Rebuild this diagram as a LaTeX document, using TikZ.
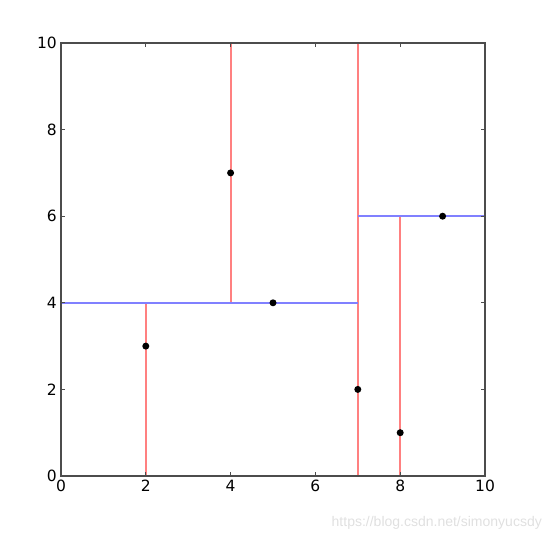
\documentclass[tikz,border=0pt]{standalone}
\usepackage{fontspec}
\setmainfont{DejaVu Sans}
\newfontfamily\wmfont{Liberation Sans}
\begin{document}
\begin{tikzpicture}[x=1pt,y=1pt,
  redline/.style={draw=red!50,line width=1.8pt},
  blueline/.style={draw=blue!50,line width=1.8pt},
  axisline/.style={draw=black!70,line width=1.1pt},
  pt/.style={circle,fill=black,inner sep=0pt,minimum size=7pt},
  ticklab/.style={font=\fontsize{15.5}{17}\selectfont,inner sep=1pt}]
\useasboundingbox (0,0) rectangle (551,542);
\begin{scope}[shift={(61,66)},x=42.4pt,y=43.3pt]
  % partition lines
  \draw[redline] (7,0) -- (7,10);
  \draw[redline] (2,0) -- (2,4);
  \draw[redline] (4,4) -- (4,10);
  \draw[redline] (8,0) -- (8,6);
  \draw[blueline] (0,4) -- (7,4);
  \draw[blueline] (7,6) -- (10,6);
  % axes frame
  \draw[axisline] (0,0) rectangle (10,10);
  \foreach \v in {0,2,...,10} {
    \draw[axisline] (\v,0) -- ++(0,4pt);
    \draw[axisline] (\v,10) -- ++(0,-4pt);
    \draw[axisline] (0,\v) -- ++(4pt,0);
    \draw[axisline] (10,\v) -- ++(-4pt,0);
    \node[ticklab,anchor=north] (xl\v) at ([yshift=-3pt]\v,0) {\v};
    \node[ticklab,anchor=east] (yl\v) at ([xshift=-3pt]0,\v) {\v};
  }
  % points
  \node[pt] (p1) at (2,3) {};
  \node[pt] (p2) at (5,4) {};
  \node[pt] (p3) at (9,6) {};
  \node[pt] (p4) at (4,7) {};
  \node[pt] (p5) at (8,1) {};
  \node[pt] (p6) at (7,2) {};
\end{scope}
\node[anchor=east,text=black!12,font=\wmfont\fontsize{14}{16}\selectfont,inner sep=0pt] (wm) at (542,19) {https://blog.csdn.net/simonyucsdy};
\end{tikzpicture}
\end{document}
